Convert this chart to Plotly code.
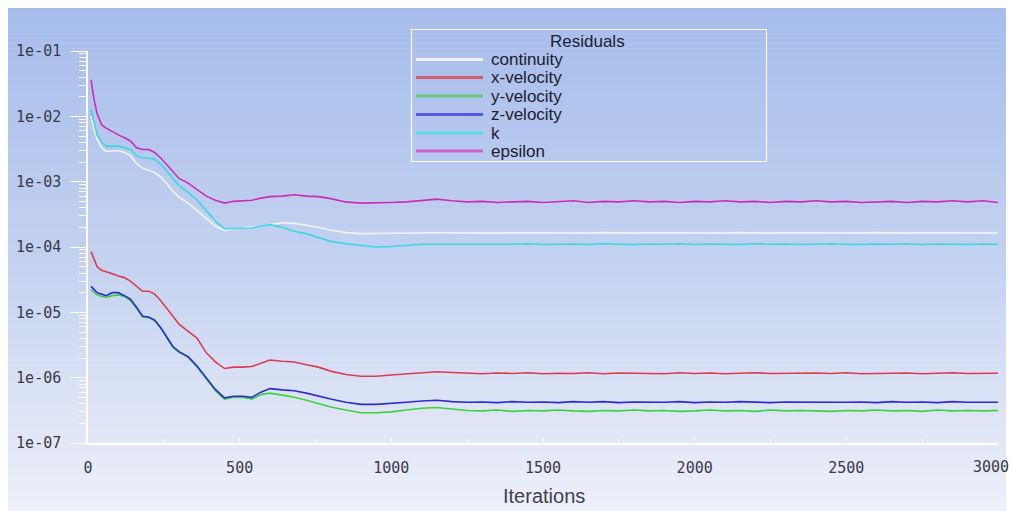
import plotly.graph_objects as go

# ---------------- data ----------------
iterations = [10, 20, 30, 45, 60, 80, 100, 120, 140, 160, 180, 200, 220, 240, 260, 280, 300,
              330, 360, 390, 420, 450, 480, 510, 540, 570, 600, 640, 680, 720, 760, 800, 850,
              900, 950, 1000, 1050, 1100, 1150, 1200,
              1250, 1300, 1350, 1400, 1450, 1500, 1550, 1600, 1650, 1700, 1750, 1800, 1850,
              1900, 1950, 2000, 2050, 2100, 2150, 2200, 2250, 2300, 2350, 2400, 2450, 2500,
              2550, 2600, 2650, 2700, 2750, 2800, 2850, 2900, 2950, 3000]

continuity = [1.0e-2, 6.3e-3, 4.5e-3, 3.3e-3, 2.9e-3, 2.95e-3, 3.0e-3, 2.8e-3, 2.5e-3, 1.9e-3,
              1.6e-3, 1.5e-3, 1.38e-3, 1.17e-3, 9.3e-4, 7.1e-4, 5.8e-4, 4.7e-4, 3.6e-4, 2.75e-4,
              2.1e-4, 1.8e-4, 1.9e-4, 1.95e-4, 2.0e-4, 2.1e-4, 2.2e-4, 2.35e-4, 2.3e-4, 2.15e-4,
              2.0e-4, 1.8e-4, 1.66e-4, 1.6e-4, 1.6e-4, 1.62e-4, 1.63e-4, 1.64e-4, 1.65e-4, 1.64e-4,
              1.64e-4, 1.66e-4, 1.63e-4, 1.65e-4, 1.64e-4, 1.66e-4, 1.63e-4, 1.65e-4, 1.64e-4,
              1.66e-4, 1.64e-4, 1.63e-4, 1.65e-4, 1.64e-4, 1.66e-4, 1.63e-4, 1.65e-4, 1.64e-4,
              1.66e-4, 1.64e-4, 1.63e-4, 1.65e-4, 1.64e-4, 1.66e-4, 1.63e-4, 1.65e-4, 1.64e-4,
              1.66e-4, 1.64e-4, 1.63e-4, 1.65e-4, 1.64e-4, 1.66e-4, 1.63e-4, 1.65e-4, 1.64e-4]

x_velocity = [8.5e-5, 6.3e-5, 5.0e-5, 4.4e-5, 4.2e-5, 3.9e-5, 3.6e-5, 3.4e-5, 3.0e-5, 2.5e-5,
              2.1e-5, 2.1e-5, 1.9e-5, 1.5e-5, 1.12e-5, 8.7e-6, 6.6e-6, 5.1e-6, 4.0e-6, 2.4e-6,
              1.75e-6, 1.38e-6, 1.45e-6, 1.45e-6, 1.48e-6, 1.66e-6, 1.86e-6, 1.78e-6, 1.74e-6,
              1.58e-6, 1.45e-6, 1.26e-6, 1.12e-6, 1.05e-6, 1.05e-6, 1.1e-6, 1.15e-6, 1.2e-6,
              1.23e-6, 1.2e-6,
              1.17e-6, 1.15e-6, 1.18e-6, 1.16e-6, 1.19e-6, 1.15e-6, 1.17e-6, 1.16e-6, 1.19e-6,
              1.15e-6, 1.18e-6, 1.16e-6, 1.17e-6, 1.15e-6, 1.19e-6, 1.16e-6, 1.18e-6, 1.15e-6,
              1.17e-6, 1.19e-6, 1.16e-6, 1.17e-6, 1.15e-6, 1.18e-6, 1.16e-6, 1.19e-6, 1.15e-6,
              1.17e-6, 1.16e-6, 1.18e-6, 1.15e-6, 1.17e-6, 1.19e-6, 1.16e-6, 1.18e-6, 1.17e-6]

y_velocity = [2.2e-5, 2.0e-5, 1.85e-5, 1.75e-5, 1.7e-5, 1.8e-5, 1.85e-5, 1.75e-5, 1.5e-5, 1.15e-5,
              8.5e-6, 8.3e-6, 7.4e-6, 5.7e-6, 4.1e-6, 2.9e-6, 2.45e-6, 2.05e-6, 1.45e-6, 9.6e-7,
              6.3e-7, 4.7e-7, 5.0e-7, 5.0e-7, 4.7e-7, 5.5e-7, 5.8e-7, 5.4e-7, 5.0e-7, 4.5e-7,
              4.0e-7, 3.55e-7, 3.2e-7, 2.9e-7, 2.9e-7, 3.0e-7, 3.2e-7, 3.4e-7, 3.5e-7, 3.3e-7,
              3.15e-7, 3.1e-7, 3.2e-7, 3.05e-7, 3.15e-7, 3.1e-7, 3.2e-7, 3.1e-7, 3.05e-7,
              3.15e-7, 3.1e-7, 3.2e-7, 3.1e-7, 3.15e-7, 3.05e-7, 3.1e-7, 3.2e-7, 3.1e-7,
              3.15e-7, 3.05e-7, 3.2e-7, 3.1e-7, 3.15e-7, 3.1e-7, 3.05e-7, 3.15e-7, 3.1e-7,
              3.2e-7, 3.1e-7, 3.15e-7, 3.05e-7, 3.2e-7, 3.1e-7, 3.15e-7, 3.1e-7, 3.15e-7]

z_velocity = [2.5e-5, 2.2e-5, 2.0e-5, 1.9e-5, 1.8e-5, 2.0e-5, 2.0e-5, 1.8e-5, 1.6e-5, 1.2e-5,
              8.7e-6, 8.5e-6, 7.6e-6, 5.8e-6, 4.2e-6, 3.0e-6, 2.5e-6, 2.1e-6, 1.5e-6, 1.0e-6,
              6.6e-7, 4.9e-7, 5.2e-7, 5.2e-7, 5.0e-7, 6.0e-7, 6.8e-7, 6.5e-7, 6.3e-7, 5.8e-7,
              5.2e-7, 4.7e-7, 4.2e-7, 3.9e-7, 3.9e-7, 4.0e-7, 4.2e-7, 4.4e-7, 4.5e-7, 4.3e-7,
              4.2e-7, 4.25e-7, 4.15e-7, 4.3e-7, 4.2e-7, 4.25e-7, 4.15e-7, 4.3e-7, 4.2e-7,
              4.3e-7, 4.15e-7, 4.25e-7, 4.2e-7, 4.2e-7, 4.3e-7, 4.15e-7, 4.25e-7, 4.2e-7,
              4.3e-7, 4.2e-7, 4.15e-7, 4.25e-7, 4.2e-7, 4.2e-7, 4.2e-7, 4.2e-7, 4.25e-7,
              4.15e-7, 4.3e-7, 4.2e-7, 4.25e-7, 4.15e-7, 4.3e-7, 4.2e-7, 4.25e-7, 4.2e-7]

k = [1.25e-2, 7.9e-3, 5.2e-3, 4.0e-3, 3.5e-3, 3.5e-3, 3.55e-3, 3.3e-3, 3.1e-3, 2.5e-3,
     2.3e-3, 2.3e-3, 2.2e-3, 1.86e-3, 1.45e-3, 1.1e-3, 8.7e-4, 6.9e-4, 5.2e-4, 3.6e-4,
     2.5e-4, 1.9e-4, 1.9e-4, 1.95e-4, 1.95e-4, 2.1e-4, 2.2e-4, 2.0e-4, 1.74e-4, 1.6e-4,
     1.4e-4, 1.22e-4, 1.12e-4, 1.05e-4, 1.0e-4, 1.02e-4, 1.07e-4, 1.1e-4, 1.1e-4, 1.1e-4,
     1.10e-4, 1.09e-4, 1.11e-4, 1.10e-4, 1.12e-4, 1.09e-4, 1.10e-4, 1.11e-4, 1.09e-4,
     1.12e-4, 1.10e-4, 1.09e-4, 1.11e-4, 1.10e-4, 1.12e-4, 1.09e-4, 1.11e-4, 1.10e-4,
     1.09e-4, 1.12e-4, 1.10e-4, 1.11e-4, 1.09e-4, 1.10e-4, 1.12e-4, 1.10e-4, 1.09e-4,
     1.11e-4, 1.10e-4, 1.12e-4, 1.09e-4, 1.11e-4, 1.10e-4, 1.09e-4, 1.11e-4, 1.10e-4]

epsilon = [3.6e-2, 1.8e-2, 1.1e-2, 7.4e-3, 6.6e-3, 5.8e-3, 5.2e-3, 4.7e-3, 4.2e-3, 3.3e-3,
           3.1e-3, 3.1e-3, 2.8e-3, 2.3e-3, 1.8e-3, 1.4e-3, 1.12e-3, 9.5e-4, 7.6e-4, 6.0e-4,
           5.2e-4, 4.7e-4, 5.0e-4, 5.1e-4, 5.2e-4, 5.6e-4, 5.9e-4, 6.0e-4, 6.3e-4, 6.0e-4,
           5.9e-4, 5.5e-4, 4.9e-4, 4.7e-4, 4.7e-4, 4.8e-4, 4.9e-4, 5.1e-4, 5.4e-4, 5.1e-4,
           4.9e-4, 5.0e-4, 4.8e-4, 4.9e-4, 5.0e-4, 4.8e-4, 4.9e-4, 5.1e-4, 4.8e-4,
           5.0e-4, 4.9e-4, 5.1e-4, 4.9e-4, 5.0e-4, 4.8e-4, 5.0e-4, 4.9e-4, 5.1e-4,
           4.9e-4, 5.0e-4, 4.8e-4, 5.0e-4, 4.9e-4, 5.1e-4, 4.9e-4, 5.0e-4, 4.8e-4,
           4.9e-4, 5.0e-4, 4.8e-4, 5.0e-4, 4.9e-4, 5.1e-4, 4.9e-4, 5.1e-4, 4.8e-4]

series_names = ["continuity", "x-velocity", "y-velocity", "z-velocity", "k", "epsilon"]
series_values = [continuity, x_velocity, y_velocity, z_velocity, k, epsilon]

y_tickvals = [1e-1, 1e-2, 1e-3, 1e-4, 1e-5, 1e-6, 1e-7]
y_ticktext = ["1e-01", "1e-02", "1e-03", "1e-04", "1e-05", "1e-06", "1e-07"]
x_tickvals = [0, 500, 1000, 1500, 2000, 2500, 3000]
x_ticktext = ["0", "500", "1000", "1500", "2000", "2500", "3000"]

legend_title = "Residuals"
x_title = "Iterations"

# ---------------- style ----------------
W, H = 1013, 511
L, R, T, B = 88, 15, 51, 68

line_colors = ["#f2f3fa", "#dc3c50", "#3cd23c", "#2c2cd2", "#38d8e2", "#cc2cb8"]
legend_colors = ["#f2f3fa", "#d2606c", "#62cc84", "#5858e0", "#5adce6", "#d262c8"]


def px_x(p):
    return (p - L) / (W - L - R)


def px_y(p):
    return (H - B - p) / (H - B - T)


fig = go.Figure()
for name, vals, col in zip(series_names, series_values, line_colors):
    fig.add_trace(go.Scatter(x=iterations, y=vals, mode="lines", name=name,
                             line=dict(color=col, width=1.6), showlegend=False))

shapes = []
# background gradient (light blue at top to near white at bottom)
stops = [(8, (166, 188, 235)), (260, (196, 210, 240)), (511, (238, 240, 250))]
n = 100
top_px, bot_px = 8, 511
for i in range(n):
    p0 = top_px + (bot_px - top_px) * i / n
    p1 = top_px + (bot_px - top_px) * (i + 1) / n
    pm = (p0 + p1) / 2
    for (a, ca), (b, cb) in zip(stops[:-1], stops[1:]):
        if a <= pm <= b:
            t = (pm - a) / (b - a)
            c = tuple(int(round(ca[j] + (cb[j] - ca[j]) * t)) for j in range(3))
            break
    shapes.append(dict(type="rect", xref="paper", yref="paper", layer="below",
                       x0=px_x(8), x1=px_x(1006), y0=px_y(p1 + 0.6), y1=px_y(p0),
                       line=dict(width=0), fillcolor="rgb(%d,%d,%d)" % c))

# legend box
shapes.append(dict(type="rect", xref="paper", yref="paper",
                   x0=px_x(411.5), x1=px_x(766.5), y0=px_y(161.5), y1=px_y(29.5),
                   line=dict(color="rgba(255,255,255,0.95)", width=1.2),
                   fillcolor="rgba(0,0,0,0)"))
entry_py = [59.5, 77.5, 96, 114.5, 133, 151]
annotations = [dict(text=legend_title, xref="paper", yref="paper", x=px_x(587), y=px_y(41),
                    xanchor="center", yanchor="middle", showarrow=False,
                    font=dict(family="Liberation Sans", size=17, color="#202030"))]
for name, col, py in zip(series_names, legend_colors, entry_py):
    shapes.append(dict(type="line", xref="paper", yref="paper",
                       x0=px_x(416), x1=px_x(483), y0=px_y(py), y1=px_y(py),
                       line=dict(color=col, width=3)))
    annotations.append(dict(text=name, xref="paper", yref="paper", x=px_x(489), y=px_y(py),
                            xanchor="left", yanchor="middle", showarrow=False,
                            font=dict(family="Liberation Sans", size=17, color="#202030")))

annotations.append(dict(text=x_title, xref="paper", yref="paper", x=px_x(543.5), y=px_y(496),
                        xanchor="center", yanchor="middle", showarrow=False,
                        font=dict(family="Liberation Sans", size=20, color="#404050")))

tick_font = dict(family="DejaVu Sans Mono", size=15, color="#3a3a4a")

# last x tick label is drawn right-aligned at the edge so it stays fully visible
axis_ticktext = x_ticktext[:-1] + [""]
annotations.append(dict(text=x_ticktext[-1], xref="x", yref="paper", x=x_tickvals[-1],
                        y=px_y(467), xanchor="right", yanchor="middle", xshift=13,
                        showarrow=False, font=tick_font))

fig.update_layout(
    width=W, height=H,
    margin=dict(l=L, r=R, t=T, b=B, autoexpand=False),
    paper_bgcolor="white",
    plot_bgcolor="rgba(0,0,0,0)",
    shapes=shapes,
    annotations=annotations,
    showlegend=False,
    xaxis=dict(range=[0, 3000], tickvals=x_tickvals, ticktext=axis_ticktext,
               ticks="inside", ticklen=5,
               tickcolor="white", tickwidth=1.2, showline=True, linecolor="white",
               linewidth=1.5, showgrid=False, zeroline=False, tickfont=tick_font,
               ticklabelstandoff=10, automargin=False,
               minor=dict(dtick=250, ticks="inside", ticklen=4, tickcolor="white",
                          showgrid=False)),
    yaxis=dict(type="log", range=[-7, -1], tickvals=y_tickvals, ticktext=y_ticktext,
               ticks="outside", ticklen=16, tickcolor="white", tickwidth=1.2,
               showline=True, linecolor="white", linewidth=1.5, showgrid=False,
               zeroline=False, tickfont=tick_font, ticklabelstandoff=6, automargin=False,
               minor=dict(dtick="D1", ticks="outside", ticklen=7, tickcolor="white",
                          showgrid=False)),
)

fig.write_html("out.html")
